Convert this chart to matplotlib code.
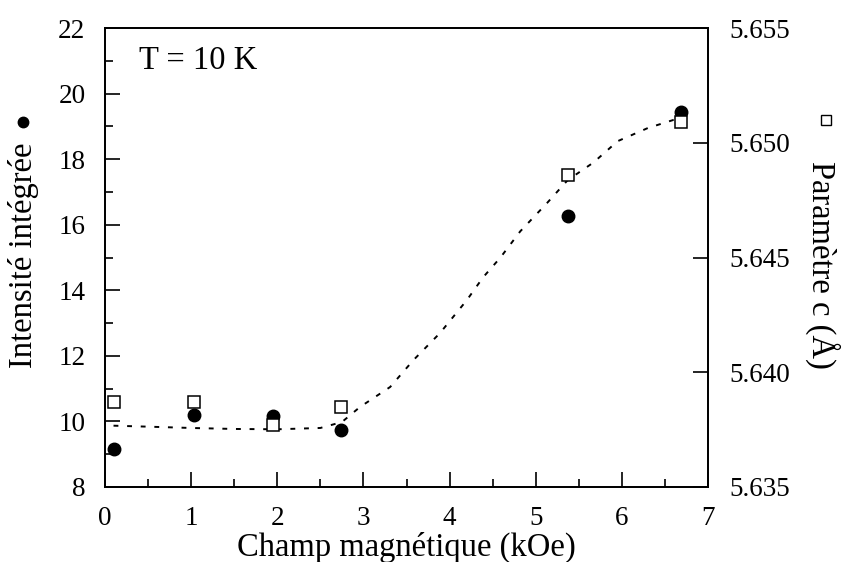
import matplotlib
matplotlib.use("Agg")
import matplotlib.pyplot as plt
from matplotlib.ticker import MultipleLocator

plt.rcParams['font.family'] = ['Liberation Serif', 'DejaVu Serif']
plt.rcParams['mathtext.fontset'] = 'stix'

# Data
field = [0.10, 1.03, 1.95, 2.74, 5.37, 6.69]
intensity = [9.16, 10.20, 10.17, 9.74, 16.26, 19.43]
param_c = [5.6387, 5.6387, 5.6377, 5.6385, 5.6486, 5.6509]

curve_x = [0.1, 0.5, 1.0, 1.5, 2.0, 2.5, 2.75, 2.96, 3.31, 3.58, 3.89, 4.2,
           4.39, 4.59, 4.82, 5.13, 5.37, 5.67, 5.95, 6.3, 6.6, 6.82]
curve_y = [9.87, 9.84, 9.80, 9.77, 9.76, 9.80, 9.98, 10.44, 11.05, 11.87, 12.7,
           13.7, 14.4, 15.0, 15.8, 16.66, 17.36, 17.9, 18.55, 18.95, 19.2, 19.3]

xticks = [0, 1, 2, 3, 4, 5, 6, 7]
yticks_left = [8, 10, 12, 14, 16, 18, 20, 22]
yticks_right = [5.635, 5.640, 5.645, 5.650, 5.655]

fig = plt.figure(figsize=(8.46, 5.62), dpi=100)
ax = fig.add_axes([0.124, 0.1335, 0.713, 0.8165])
ax2 = ax.twinx()

ax.plot(curve_x, curve_y, color='black', linestyle=(0, (2.5, 4.5)), linewidth=1.4)
ax.plot(field, intensity, 'o', color='black', markersize=9)
ax2.plot(field, param_c, 's', markerfacecolor='white', markeredgecolor='black',
         markersize=9, markeredgewidth=1.1)

ax.set_xlim(0, 7)
ax.set_ylim(8, 22)
ax2.set_ylim(5.635, 5.655)

ax.set_xticks(xticks)
ax.set_yticks(yticks_left)
ax.xaxis.set_minor_locator(MultipleLocator(0.5))
ax.yaxis.set_minor_locator(MultipleLocator(1))
ax2.set_yticks(yticks_right)
ax2.set_yticklabels(['5.635', '5.640', '5.645', '5.650', '5.655'])

for a in (ax, ax2):
    for s in a.spines.values():
        s.set_linewidth(1.3)

ax.tick_params(axis='both', which='major', direction='in', length=11, width=1.2,
               labelsize=19.5, top=False, right=False)
ax.tick_params(axis='both', which='minor', direction='in', length=6, width=1.2,
               top=False, right=False)
ax.tick_params(axis='x', pad=14)
ax.tick_params(axis='y', pad=14)
ax2.tick_params(axis='y', which='major', direction='in', length=11, width=1.2,
                labelsize=19.5, pad=15)

ax.set_xlabel('Champ magnétique (kOe)', fontsize=23.5, labelpad=0)

fig.text(0.028, 0.546, 'Intensité intégrée', rotation=90, fontsize=23.5,
         ha='center', va='center')
ax.plot([-0.95], [19.15], 'o', color='black', markersize=7.5, clip_on=False)
fig.text(0.972, 0.528, 'Paramètre c (Å)', rotation=-90, fontsize=23.5,
         ha='center', va='center')
ax2.plot([8.37], [5.6510], 's', markerfacecolor='white', markeredgecolor='black',
         markersize=7, markeredgewidth=1.0, clip_on=False)

ax.text(0.4, 21.0, 'T = 10 K', fontsize=23.5, ha='left', va='center')

fig.savefig('out.png', dpi=100)
